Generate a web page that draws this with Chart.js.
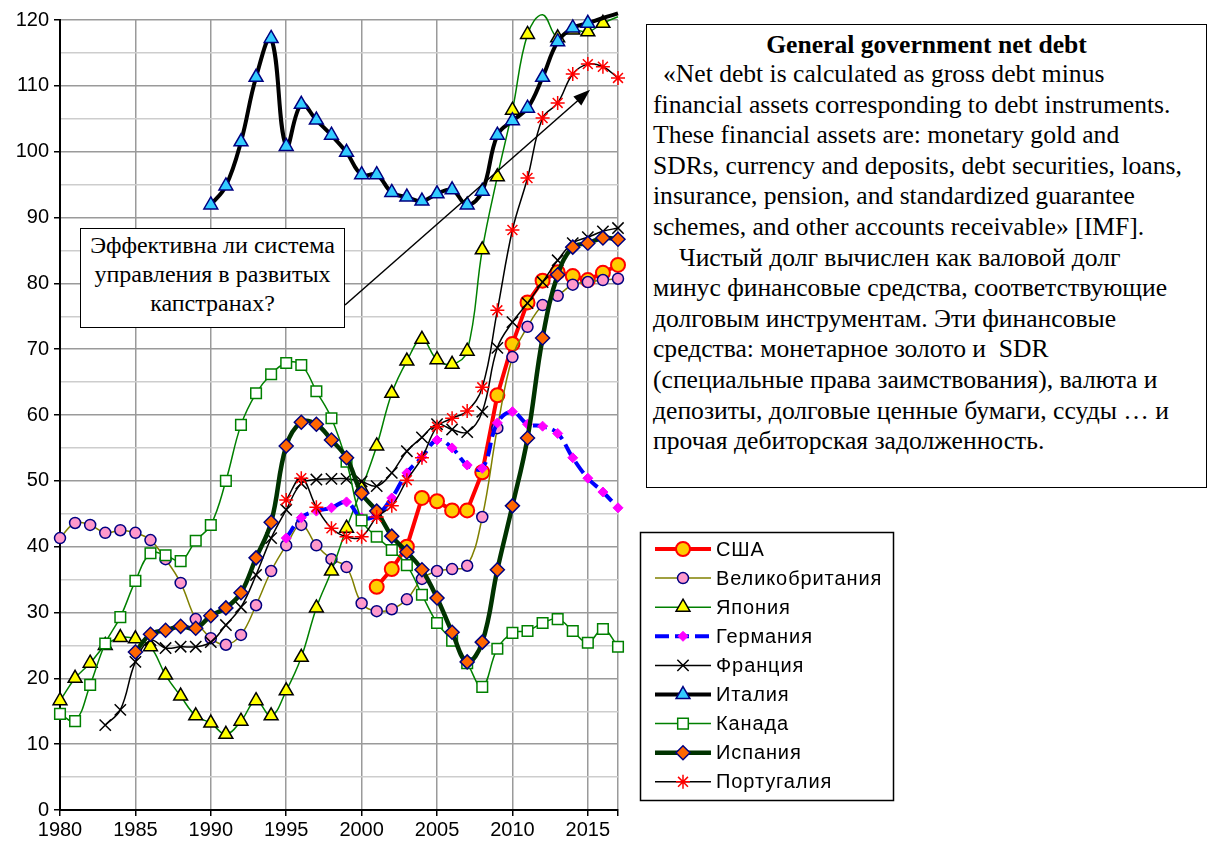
<!DOCTYPE html>
<html>
<head>
<meta charset="utf-8">
<script src="https://cdn.jsdelivr.net/npm/chart.js@4.4.1/dist/chart.umd.min.js"></script>
<style>
  body { margin: 0; background: #fff; }
  #wrap { position: relative; width: 1213px; height: 847px; }
  #chart { position: absolute; left: 0; top: 0; }
  .box { position: absolute; box-sizing: border-box; border: 1.5px solid #000; background: #fff;
         font-family: "Liberation Serif", "Times New Roman", serif; color: #000; white-space: nowrap; }
  #note { left: 646px; top: 24px; width: 561px; height: 464px; font-size: 25.6px; line-height: 30.6px; padding: 5px 0 0 6px; }
  #note .t { text-align: center; font-weight: bold; padding-right: 6px; line-height: 29px; }
  #ask { left: 80px; top: 228px; width: 265px; height: 100px; font-size: 24px; line-height: 29px; text-align: center; padding-top: 2px; }
</style>
</head>
<body>
<div id="wrap">
  <canvas id="chart" width="1213" height="847"></canvas>
  <div class="box" id="ask">Эффективна ли система<br>управления в развитых<br>капстранах?</div>
  <div class="box" id="note">
    <div class="t">General government net debt</div>
    <div style="text-indent:10px">«Net debt is calculated as gross debt minus</div>
    <div>financial assets corresponding to debt instruments.</div>
    <div>These financial assets are: monetary gold and</div>
    <div>SDRs, currency and deposits, debt securities, loans,</div>
    <div>insurance, pension, and standardized guarantee</div>
    <div>schemes, and other accounts receivable» [IMF].</div>
    <div style="text-indent:26px">Чистый долг вычислен как валовой долг</div>
    <div>минус финансовые средства, соответствующие</div>
    <div>долговым инструментам. Эти финансовые</div>
    <div>средства: монетарное золото и&nbsp; SDR</div>
    <div>(специальные права заимствования), валюта и</div>
    <div>депозиты, долговые ценные бумаги, ссуды … и</div>
    <div>прочая дебиторская задолженность.</div>
  </div>
</div>
<script>
// years 1980..2017, null = no data
const years = [1980, 1981, 1982, 1983, 1984, 1985, 1986, 1987, 1988, 1989,
               1990, 1991, 1992, 1993, 1994, 1995, 1996, 1997, 1998, 1999,
               2000, 2001, 2002, 2003, 2004, 2005, 2006, 2007, 2008, 2009,
               2010, 2011, 2012, 2013, 2014, 2015, 2016, 2017];

// x gridlines; 2017 is the right edge, unlabelled
const xTicks = [1980, 1985, 1990, 1995, 2000, 2005, 2010, 2015, 2017];

const usa = [null, null, null, null, null, null, null, null, null, null,
             null, null, null, null, null, null, null, null, null, null,
             null, 33.9, 36.6, 40.0, 47.4, 46.9, 45.5, 45.5, 51.3, 63.0,
             70.8, 77.1, 80.4, 81.7, 81.1, 80.5, 81.6, 82.8];

const uk = [41.3, 43.6, 43.3, 42.1, 42.5, 42.1, 41.0, 38.1, 34.5, 29.0,
            26.1, 25.1, 26.6, 31.1, 36.3, 40.2, 43.3, 40.2, 38.1, 36.9,
            31.4, 30.2, 30.5, 32.0, 35.1, 36.3, 36.6, 37.1, 44.5, 58.0,
            68.8, 73.4, 76.7, 78.1, 79.8, 80.2, 80.5, 80.7];

const japan = [16.6, 20.0, 22.3, 25.0, 26.2, 26.0, 24.8, 20.5, 17.3, 14.3,
               13.2, 11.5, 13.5, 16.6, 14.3, 18.1, 23.2, 30.7, 36.3, 42.8,
               48.8, 55.3, 63.3, 68.2, 71.5, 68.4, 67.7, 69.7, 85.1, 96.2,
               106.3, 117.8, 120.8, 117.3, 118.5, 118.2, 119.5, 120.5];

const germany = [null, null, null, null, null, null, null, null, null, null,
                 null, null, null, null, null, 41.3, 44.4, 45.4, 45.9, 46.8,
                 44.4, 44.8, 47.4, 51.2, 53.6, 56.2, 55.0, 52.4, 51.9, 58.8,
                 60.5, 58.6, 58.3, 57.2, 53.5, 50.4, 48.3, 45.9];

const france = [null, null, null, 12.9, 15.2, 22.5, 25.8, 24.6, 24.8, 24.8,
                25.5, 28.1, 30.8, 35.7, 41.3, 45.6, 49.6, 50.2, 50.3, 50.3,
                49.9, 49.2, 51.2, 54.5, 56.6, 58.6, 57.8, 57.4, 60.5, 70.2,
                74.1, 77.0, 80.2, 83.5, 86.1, 87.0, 87.9, 88.4];

const italy = [null, null, null, null, null, null, null, null, null, null,
               91.9, 94.8, 101.5, 111.3, 117.2, 100.8, 107.2, 104.8, 102.5, 99.9,
               96.5, 96.5, 93.8, 93.1, 92.5, 93.6, 94.2, 91.9, 94.0, 102.5,
               104.7, 106.6, 111.3, 116.7, 118.8, 119.5, 120.3, 121.0];

const canada = [14.6, 13.5, 19.0, 25.3, 29.3, 34.8, 39.0, 38.7, 37.8, 40.9,
                43.3, 50.0, 58.5, 63.3, 66.2, 67.9, 67.6, 63.6, 59.5, 52.9,
                44.0, 41.5, 39.5, 37.2, 32.7, 28.4, 25.7, 22.3, 18.7, 24.5,
                26.9, 27.2, 28.4, 29.0, 27.2, 25.4, 27.5, 24.8];

const spain = [null, null, null, null, null, 24.0, 26.7, 27.3, 27.9, 27.6,
               29.5, 30.7, 33.0, 38.3, 43.7, 55.3, 58.9, 58.6, 56.2, 53.5,
               48.1, 45.4, 41.6, 39.2, 36.5, 32.2, 27.0, 22.5, 25.5, 36.5,
               46.2, 56.5, 71.7, 81.3, 85.5, 86.1, 86.9, 86.7];

const portugal = [null, null, null, null, null, null, null, null, null, null,
                  null, null, null, null, null, 47.1, 50.4, 46.0, 42.8, 41.5,
                  41.5, 44.5, 46.2, 50.1, 53.5, 58.2, 59.5, 60.6, 64.2, 75.9,
                  88.1, 96.0, 105.1, 107.4, 111.8, 113.3, 112.9, 111.2];

// arrow of the note, in data units: from the question box towards the top right
const arrowFrom = [1998.9, 76.7];
const arrowTo = [2015.15, 109.4];

const FONT = '"Liberation Sans", Arial, sans-serif';

function pts(arr) {
    return years.map((y, i) => ({ x: y, y: arr[i] }));
}

function series(label, data, o) {
    return {
        label: label,
        data: pts(data),
        borderColor: o.line,
        borderWidth: o.width,
        borderDash: o.dash || [],
        tension: o.tension,
        pointStyle: o.style,
        mr: o.r,
        pointRadius: c => (c.raw && c.raw.y > 120) ? 0 : o.r,
        pointBackgroundColor: o.fill,
        pointBorderColor: o.edge,
        pointBorderWidth: o.edgeW,
        clip: 10
    };
}

const datasets = [
    series('США', usa, { line: '#ff0000', width: 4, tension: 0, style: 'circle', r: 7, fill: '#ffcc00', edge: '#ff0000', edgeW: 2 }),
    series('Великобритания', uk, { line: '#808000', width: 1.5, tension: 0.4, style: 'circle', r: 5.5, fill: '#ff99cc', edge: '#000080', edgeW: 1.5 }),
    series('Япония', japan, { line: '#008000', width: 1.5, tension: 0.4, style: 'triangle', r: 8, fill: '#ffff00', edge: '#000000', edgeW: 1.5 }),
    series('Германия', germany, { line: '#0000ff', width: 4, dash: [14, 6], tension: 0.4, style: 'rectRot', r: 5, fill: '#ff00ff', edge: '#ff00ff', edgeW: 1 }),
    series('Франция', france, { line: '#000000', width: 1.5, tension: 0.4, style: 'crossRot', r: 8, fill: '#000000', edge: '#000000', edgeW: 1.5 }),
    series('Италия', italy, { line: '#000000', width: 4, tension: 0.4, style: 'triangle', r: 8, fill: '#33ccff', edge: '#000080', edgeW: 1.5 }),
    series('Канада', canada, { line: '#008000', width: 1.5, tension: 0.4, style: 'rect', r: 7.5, fill: '#ffffff', edge: '#008000', edgeW: 1.5 }),
    series('Испания', spain, { line: '#003300', width: 4.5, tension: 0.4, style: 'rectRot', r: 7, fill: '#ff6600', edge: '#000080', edgeW: 1.5 }),
    series('Португалия', portugal, { line: '#000000', width: 1.5, tension: 0.4, style: 'star', r: 7, fill: '#ff0000', edge: '#ff0000', edgeW: 1.5 })
];
// later series drawn on top, as in the original
datasets.forEach((d, i) => { d.order = datasets.length - 1 - i; });

const arrowPlugin = {
    id: 'arrow',
    afterDatasetsDraw(chart) {
        const { ctx, scales } = chart;
        const x1 = scales.x.getPixelForValue(arrowFrom[0]), y1 = scales.y.getPixelForValue(arrowFrom[1]);
        const x2 = scales.x.getPixelForValue(arrowTo[0]), y2 = scales.y.getPixelForValue(arrowTo[1]);
        const a = Math.atan2(y2 - y1, x2 - x1);
        ctx.save();
        ctx.strokeStyle = '#000';
        ctx.fillStyle = '#000';
        ctx.lineWidth = 1.5;
        ctx.beginPath();
        ctx.moveTo(x1, y1);
        ctx.lineTo(x2 - 12 * Math.cos(a), y2 - 12 * Math.sin(a));
        ctx.stroke();
        ctx.beginPath();
        ctx.moveTo(x2, y2);
        ctx.lineTo(x2 - 17 * Math.cos(a) + 6 * Math.sin(a), y2 - 17 * Math.sin(a) - 6 * Math.cos(a));
        ctx.lineTo(x2 - 17 * Math.cos(a) - 6 * Math.sin(a), y2 - 17 * Math.sin(a) + 6 * Math.cos(a));
        ctx.closePath();
        ctx.fill();
        ctx.restore();
    }
};

const legendPlugin = {
    id: 'sideLegend',
    afterDraw(chart) {
        const ctx = chart.ctx;
        ctx.save();
        ctx.lineWidth = 1.5;
        ctx.strokeStyle = '#000';
        ctx.strokeRect(640.5, 532.5, 253, 268);
        chart.data.datasets.forEach((ds, i) => {
            const y = 549 + i * 29.1;
            ctx.save();
            ctx.strokeStyle = ds.borderColor;
            ctx.lineWidth = ds.borderWidth;
            ctx.setLineDash(ds.borderDash);
            ctx.beginPath();
            ctx.moveTo(655, y);
            ctx.lineTo(711, y);
            ctx.stroke();
            ctx.setLineDash([]);
            ctx.fillStyle = ds.pointBackgroundColor;
            ctx.strokeStyle = ds.pointBorderColor;
            ctx.lineWidth = ds.pointBorderWidth;
            Chart.helpers.drawPoint(ctx, { pointStyle: ds.pointStyle, radius: ds.mr, rotation: 0, borderWidth: ds.pointBorderWidth }, 683, y);
            ctx.restore();
            ctx.fillStyle = '#000';
            ctx.font = '20px ' + FONT;
            ctx.letterSpacing = '0.9px';
            ctx.textBaseline = 'middle';
            ctx.fillText(ds.label, 716, y + 1);
        });
        ctx.restore();
    }
};

new Chart(document.getElementById('chart'), {
    type: 'line',
    data: { datasets: datasets },
    plugins: [arrowPlugin, legendPlugin],
    options: {
        responsive: false,
        animation: false,
        devicePixelRatio: 1,
        events: [],
        layout: { padding: { top: 20, right: 595, left: 0, bottom: 0 } },
        plugins: { legend: { display: false }, tooltip: { enabled: false } },
        scales: {
            x: {
                type: 'linear',
                min: 1980,
                max: 2017,
                afterBuildTicks(axis) { axis.ticks = xTicks.map(v => ({ value: v })); },
                afterFit(axis) { axis.height = 37; },
                border: { color: '#000', width: 2 },
                grid: { color: '#9a9a9a', lineWidth: 1.5, tickLength: 6, tickColor: '#000' },
                ticks: {
                    autoSkip: false,
                    maxRotation: 0,
                    padding: 2,
                    color: '#000',
                    font: { family: FONT, size: 20 },
                    callback: v => v % 5 === 0 ? String(v) : ''
                }
            },
            y: {
                min: 0,
                max: 120,
                afterFit(axis) { axis.width = 60; },
                border: { color: '#000', width: 2 },
                grid: {
                    color: c => c.tick && c.tick.value % 10 === 0 ? '#9a9a9a' : '#cdcdcd',
                    lineWidth: 1.5,
                    tickLength: 6,
                    tickColor: c => c.tick && c.tick.value % 10 === 0 ? '#000' : 'rgba(0,0,0,0)'
                },
                ticks: {
                    stepSize: 5,
                    padding: 5,
                    color: '#000',
                    font: { family: FONT, size: 20 },
                    callback: v => v % 10 === 0 ? String(v) : ''
                }
            }
        }
    }
});
</script>
</body>
</html>
